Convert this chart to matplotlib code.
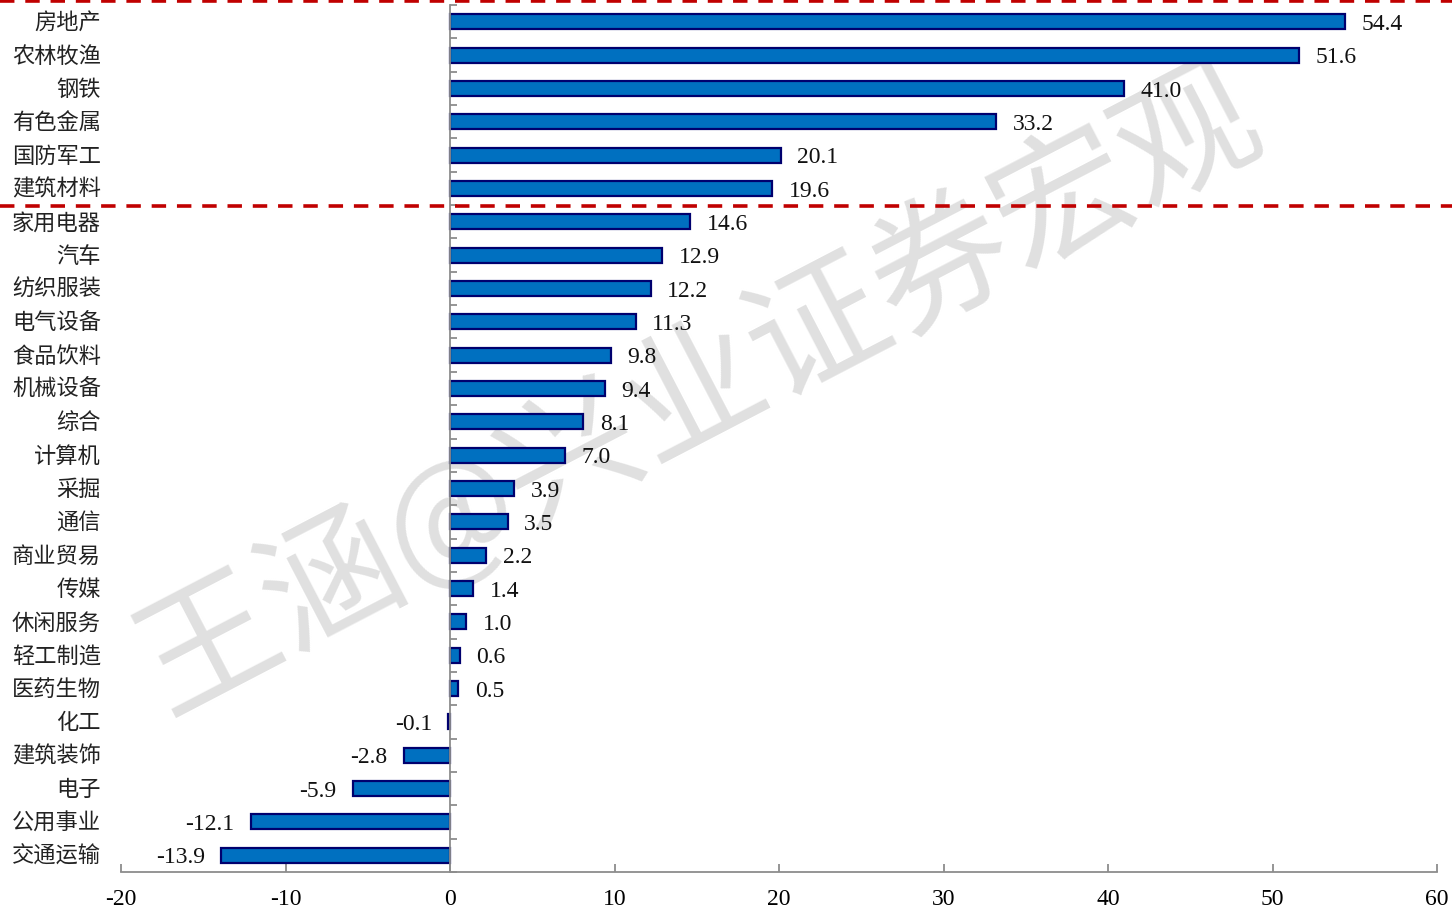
import matplotlib
matplotlib.use("Agg")
import matplotlib.pyplot as plt
from matplotlib.transforms import blended_transform_factory
from matplotlib.lines import Line2D

categories = ["房地产", "农林牧渔", "钢铁", "有色金属", "国防军工", "建筑材料",
              "家用电器", "汽车", "纺织服装", "电气设备", "食品饮料", "机械设备",
              "综合", "计算机", "采掘", "通信", "商业贸易", "传媒", "休闲服务",
              "轻工制造", "医药生物", "化工", "建筑装饰", "电子", "公用事业", "交通运输"]
values = [54.4, 51.6, 41.0, 33.2, 20.1, 19.6, 14.6, 12.9, 12.2, 11.3, 9.8, 9.4,
          8.1, 7.0, 3.9, 3.5, 2.2, 1.4, 1.0, 0.6, 0.5, -0.1, -2.8, -5.9, -12.1, -13.9]
xticks = [-20, -10, 0, 10, 20, 30, 40, 50, 60]
watermark = "王涵@兴业证券宏观"

CJK = ["Noto Sans CJK SC", "DejaVu Sans"]
SERIF = ["Liberation Serif", "DejaVu Serif"]

W, H = 1452, 908
fig = plt.figure(figsize=(W / 100, H / 100), dpi=100)

# watermark (behind everything)
fig.text(700 / W, 1 - 392 / H, watermark, fontfamily=CJK, fontsize=100,
         fontweight="light", color="#e0e0e0", rotation=27.5, ha="center",
         va="center", rotation_mode="anchor", zorder=-5)

ax = fig.add_axes([121 / W, 1 - 872 / H, (1437 - 121) / W, (872 - 5) / H])
ax.set_zorder(1)
ax.patch.set_alpha(0)

n = len(categories)
ypos = list(range(n))
ax.barh(ypos, values, height=0.45, color="#0070C0", edgecolor="#00006E",
        linewidth=1.6, zorder=3)
ax.set_xlim(-20, 60)
ax.set_ylim(n - 0.5, -0.5)

for s in ["top", "right"]:
    ax.spines[s].set_visible(False)
ax.spines["left"].set_position(("data", 0))
for s in ["left", "bottom"]:
    ax.spines[s].set_color("#8c8c8c")
    ax.spines[s].set_linewidth(1.3)
    ax.spines[s].set_zorder(4)

ax.set_yticks([i - 0.5 for i in range(n + 1)])
ax.set_yticklabels([])
ax.tick_params(axis="y", direction="in", length=5, color="#8c8c8c", width=1.3)
ax.set_xticks(xticks)
ax.set_xticklabels([str(t) for t in xticks], fontfamily=SERIF, fontsize=17)
ax.tick_params(axis="x", direction="in", length=6, color="#8c8c8c", width=1.3, pad=12)

trans = blended_transform_factory(ax.transAxes, ax.transData)
lab_x = (101 - 121) / (1437 - 121)
for i, c in enumerate(categories):
    ax.text(lab_x, i + 0.03, c, transform=trans, ha="right", va="center",
            fontfamily=CJK, fontsize=16, color="#222222")

for i, v in enumerate(values):
    if v >= 0:
        ax.text(v + 1.0, i + 0.08, f"{v:.1f}", ha="left", va="center",
                fontfamily=SERIF, fontsize=17, color="#111111")
    else:
        ax.text(v - 1.0, i + 0.08, f"{v:.1f}", ha="right", va="center",
                fontfamily=SERIF, fontsize=17, color="#111111")

# red dashed separators across the full width
for ypx in [1, 206]:
    yf = 1 - ypx / H
    fig.add_artist(Line2D([0, 1], [yf, yf], transform=fig.transFigure,
                          color="#C00000", linewidth=2.6, linestyle=(0, (4, 3)),
                          zorder=5))

fig.savefig("out.png", dpi=100)
